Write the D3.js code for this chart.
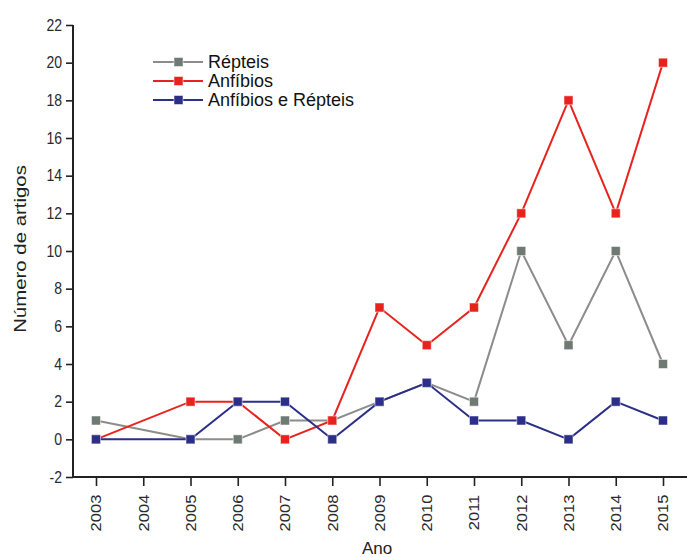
<!DOCTYPE html>
<html>
<head>
<meta charset="utf-8">
<script src="https://cdn.jsdelivr.net/npm/d3@7"></script>
<style>
  body { margin: 0; background: #fff; }
  text { font-family: "Liberation Sans", Arial, sans-serif; }
</style>
</head>
<body>
<div id="chart"></div>
<script>
// years on the axis (2004 has no data)
const years = [2003, 2004, 2005, 2006, 2007, 2008, 2009, 2010, 2011, 2012, 2013, 2014, 2015];
const repteis = [1, null, 0, 0, 1, 1, 2, 3, 2, 10, 5, 10, 4];
const anfibios = [0, null, 2, 2, 0, 1, 7, 5, 7, 12, 18, 12, 20];
const ambos = [0, null, 0, 2, 2, 0, 2, 3, 1, 1, 0, 2, 1];
const seriesNames = ["Répteis", "Anfíbios", "Anfíbios e Répteis"];
const seriesColors = ["#8c8c8c", "#e8231e", "#2c2f87"];
const markerColors = ["#6f7a72", "#e8231e", "#2c2f87"];
const yTicks = [-2, 0, 2, 4, 6, 8, 10, 12, 14, 16, 18, 20, 22];

const width = 687, height = 557;
const margin = { top: 25, right: 0, bottom: 80, left: 73 };

const svg = d3.select("#chart").append("svg")
    .attr("width", width)
    .attr("height", height);

const x = d3.scaleLinear().domain([2003, 2015]).range([96, 663]);
const y = d3.scaleLinear().domain([-2, 22]).range([477, 25]);

// y axis
let yAxis = svg.append("g")
    .attr("transform", `translate(${margin.left},0)`)
    .call(d3.axisLeft(y).tickValues(yTicks).tickFormat(d => String(d)).tickSize(7).tickPadding(4));
yAxis.select(".domain").attr("stroke", "#222").attr("stroke-width", 2).attr("d", `M0,${y(22)}V${y(-2)}`);
yAxis.selectAll(".tick line").attr("stroke", "#222").attr("stroke-width", 1.6);
yAxis.selectAll(".tick text").attr("font-size", "14px").attr("fill", "#2a2a2a")
    .attr("font-family", "Liberation Sans, Arial, sans-serif")
    .attr("transform", "scale(1,1.15)")
    .attr("y", function () { return 0; })
    .each(function () {
        // keep label centred on its tick after the vertical stretch
        d3.select(this).attr("dy", "0.32em");
    });

// x axis
let xAxis = svg.append("g")
    .attr("transform", `translate(0,${y(-2)})`)
    .call(d3.axisBottom(x).tickValues(years).tickFormat(d3.format("d")).tickSize(9).tickPadding(6));
xAxis.select(".domain").attr("stroke", "#222").attr("stroke-width", 2).attr("d", `M${margin.left},0H${width}`);
xAxis.selectAll(".tick line").attr("stroke", "#222").attr("stroke-width", 1.6);
xAxis.selectAll(".tick text")
    .attr("font-size", "14px").attr("fill", "#2a2a2a")
    .attr("font-family", "Liberation Sans, Arial, sans-serif")
    .attr("transform", "rotate(-90) scale(1.18,1)")
    .attr("text-anchor", "end")
    .attr("x", -15).attr("y", 0).attr("dy", "0.35em");

// axis titles
svg.append("text")
    .attr("transform", `translate(26,249) rotate(-90) scale(1.2,1)`)
    .attr("text-anchor", "middle")
    .attr("font-size", "17px").attr("fill", "#222")
    .text("Número de artigos");

svg.append("text")
    .attr("x", 377).attr("y", 554)
    .attr("text-anchor", "middle")
    .attr("font-size", "17px").attr("fill", "#222")
    .text("Ano");

// series
const allSeries = [repteis, anfibios, ambos];
const line = d3.line().x(d => x(d.year)).y(d => y(d.value));

allSeries.forEach((vals, i) => {
    let pts = years.map((yr, j) => ({ year: yr, value: vals[j] })).filter(d => d.value !== null);
    svg.append("path")
        .datum(pts)
        .attr("fill", "none")
        .attr("stroke", seriesColors[i])
        .attr("stroke-width", 2)
        .attr("d", line);
    svg.selectAll(".m" + i)
        .data(pts)
        .enter()
        .append("rect")
        .attr("x", d => x(d.year) - 4.5)
        .attr("y", d => y(d.value) - 4.5)
        .attr("width", 9)
        .attr("height", 9)
        .attr("fill", markerColors[i])
        .attr("stroke", "#fff")
        .attr("stroke-opacity", 0.5)
        .attr("stroke-width", 1);
});

// legend
const legend = svg.append("g");
seriesNames.forEach((name, i) => {
    let ly = 62 + i * 19;
    legend.append("line")
        .attr("x1", 153).attr("x2", 203).attr("y1", ly).attr("y2", ly)
        .attr("stroke", seriesColors[i]).attr("stroke-width", 2);
    legend.append("rect")
        .attr("x", 174).attr("y", ly - 4.5).attr("width", 9).attr("height", 9)
        .attr("fill", markerColors[i]).attr("stroke", "#fff").attr("stroke-opacity", 0.5);
    legend.append("text")
        .attr("x", 208).attr("y", ly).attr("dy", "0.36em")
        .attr("font-size", "18px").attr("fill", "#111")
        .text(name);
});
</script>
</body>
</html>
